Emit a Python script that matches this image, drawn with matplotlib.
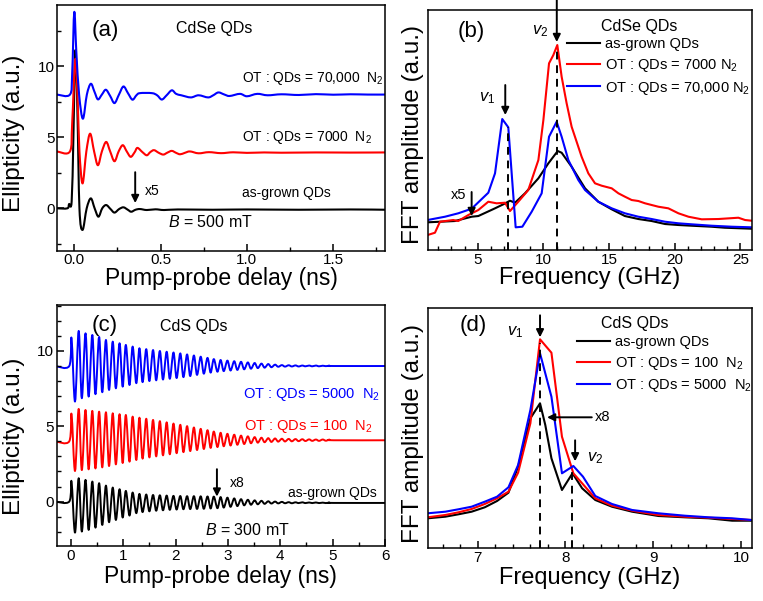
import matplotlib
matplotlib.use("Agg")
import matplotlib.pyplot as plt
from matplotlib.ticker import MultipleLocator
from matplotlib.path import Path
from matplotlib.patches import PathPatch

plt.rcParams['font.family'] = ['Liberation Sans', 'DejaVu Sans']
plt.rcParams['mathtext.fontset'] = 'custom'
plt.rcParams['mathtext.rm'] = 'Liberation Sans'
plt.rcParams['mathtext.it'] = 'Liberation Sans:italic'
plt.rcParams['mathtext.bf'] = 'Liberation Sans:bold'

# ---------------- Panel (a): CdSe time traces (delay ns, ellipticity) -------------
A_BLUE_T = [-0.10, -0.025, -0.012, 0.0, 0.012, 0.028, 0.05, 0.073, 0.096, 0.117, 0.137, 0.16,
            0.183, 0.208, 0.233, 0.259, 0.285, 0.311, 0.337, 0.36, 0.38, 0.45, 0.48, 0.507,
            0.535, 0.565, 0.59, 0.62, 0.675, 0.72, 0.775, 0.805, 0.835, 0.87, 0.9, 0.96, 1.0,
            1.06, 1.12, 1.2, 1.3, 1.4, 1.5, 1.6, 1.7, 1.8]
A_BLUE_V = [8.0, 8.0, 9.5, 13.8, 11.0, 8.0, 6.3, 8.0, 8.76, 8.2, 7.66, 8.0,
            8.34, 7.9, 7.4, 8.0, 8.57, 8.1, 7.64, 7.95, 8.1, 8.1, 7.95, 7.65,
            7.95, 8.3, 8.05, 7.95, 7.8, 7.95, 7.8, 7.95, 8.15, 8.0, 7.9, 8.05, 7.88,
            8.05, 7.95, 8.02, 7.97, 8.03, 7.99, 8.02, 8.0, 8.0]

A_RED_T = [-0.10, -0.025, -0.012, 0.006, 0.02, 0.03, 0.048, 0.07, 0.092, 0.115, 0.137, 0.16,
           0.185, 0.208, 0.233, 0.257, 0.281, 0.304, 0.327, 0.35, 0.366, 0.395, 0.42, 0.44,
           0.462, 0.49, 0.516, 0.54, 0.565, 0.59, 0.613, 0.64, 0.67, 0.72, 0.78, 0.85, 0.92,
           1.0, 1.1, 1.2, 1.4, 1.6, 1.8]
A_RED_V = [4.0, 4.0, 6.0, 10.5, 7.5, 4.0, 1.75, 4.0, 5.25, 4.0, 3.03, 4.0,
           4.67, 4.0, 3.31, 4.0, 4.44, 4.0, 3.62, 3.95, 4.25, 3.95, 3.73, 3.95,
           4.09, 3.9, 3.78, 3.92, 4.04, 3.9, 3.8, 3.9, 4.0, 3.87, 3.95, 3.88, 3.94,
           3.9, 3.93, 3.91, 3.93, 3.92, 3.93]

A_BLACK_T = [-0.10, -0.04, -0.03, -0.015, -0.005, 0.006, 0.018, 0.03, 0.048, 0.072, 0.096,
             0.118, 0.14, 0.162, 0.185, 0.21, 0.233, 0.26, 0.285, 0.31, 0.33, 0.355, 0.38,
             0.42, 0.47, 0.52, 0.6, 0.8, 1.0, 1.3, 1.6, 1.8]
A_BLACK_V = [0.0, 0.0, 0.3, 0.5, 5.0, 11.1, 7.0, 0.0, -1.52, 0.0, 0.7,
             0.0, -0.59, 0.0, 0.23, -0.05, -0.3, -0.05, 0.07, -0.1, -0.24, -0.1, -0.05,
             -0.12, -0.07, -0.12, -0.08, -0.1, -0.08, -0.1, -0.08, -0.1]

# ---------------- Panel (b): CdSe FFT (GHz, a.u.) ----------------
B_BLACK_F = [1.19, 3.27, 4.54, 5.05, 6.32, 6.95, 7.46, 7.84, 8.6, 9.62, 10.38, 11.09, 11.39,
             12.15, 13.17, 14.18, 15.2, 16.2, 17.23, 18.24, 19.26, 20.28, 21.29, 22.8, 23.8, 25.86]
B_BLACK_A = [27.7, 29, 33.3, 34, 41.7, 45.7, 49.3, 47.3, 56.7, 71.7, 86.7, 99, 97.3,
             83.3, 61.7, 48.3, 40.7, 34, 31, 29, 26, 25, 24.3, 23.3, 22.3, 21.3]
B_RED_F = [1.19, 1.75, 2.13, 3.14, 3.52, 4.29, 5.05, 5.81, 6.44, 7.08, 7.46, 8.09, 8.85, 9.62,
           10.0, 10.43, 10.76, 11.06, 11.39, 11.77, 12.15, 12.91, 13.42, 13.93, 14.44, 15.2,
           15.71, 16.21, 16.72, 17.23, 17.74, 18.75, 19.51, 20.28, 21.04, 22.05, 23.32, 24.84,
           25.35, 25.86]
B_RED_A = [15, 17.3, 28.3, 30, 29, 35, 40, 48.3, 46.7, 47.3, 39, 48.3, 60, 90,
           130, 186.7, 195, 205, 173.3, 146.7, 123.3, 93.3, 76.7, 66.7, 64.3, 61.7,
           56.7, 53.3, 50, 49, 46.7, 43.3, 41.7, 36.7, 33.3, 30.7, 31, 32.3,
           30, 29.3]
B_BLUE_F = [1.19, 2.51, 3.52, 4.54, 5.81, 6.32, 6.87, 7.33, 7.89, 8.4, 9.11, 9.87, 10.43,
            11.01, 11.39, 11.9, 12.66, 13.17, 14.18, 15.2, 16.21, 17.23, 18.24, 19.26, 20.28,
            21.29, 22.81, 24.34, 25.86]
B_BLUE_A = [30, 33.3, 36.7, 41.3, 57.3, 76.7, 131, 122.7, 22.7, 23.3, 38.3, 56.7, 113.3,
            128.3, 113.3, 90, 70, 60, 48.3, 41.7, 36.7, 33.3, 31, 28.3, 26.7,
            25.7, 24.3, 23.3, 22.7]

# ---------------- Panel (c): CdS time traces ----------------
C_PEAK_T = [0.15, 0.28, 0.41, 0.54, 0.67, 0.80, 0.93, 1.05, 1.18, 1.31, 1.44, 1.57, 1.70,
            1.83, 1.96, 2.09, 2.22, 2.35, 2.48, 2.61, 2.73, 2.86, 2.99, 3.12, 3.25, 3.38,
            3.51, 3.64, 3.77, 3.90, 4.03, 4.16, 4.29, 4.42, 4.55, 4.68, 4.81, 4.94]
C_TROUGH_T = [0.08, 0.21, 0.34, 0.47, 0.60, 0.73, 0.86, 0.99, 1.12, 1.25, 1.37, 1.50, 1.63,
              1.76, 1.89, 2.02, 2.15, 2.28, 2.41, 2.54, 2.67, 2.80, 2.92, 3.05, 3.18, 3.31,
              3.44, 3.57, 3.70, 3.83, 3.96, 4.09, 4.22, 4.35, 4.48, 4.61, 4.74, 4.87]
C_BLUE_PEAK = [11.33, 11.17, 11.06, 10.93, 10.73, 10.62, 10.51, 10.40, 10.29, 10.18, 10.12,
               10.06, 10.00, 9.95, 9.90, 9.84, 9.77, 9.70, 9.62, 9.54, 9.46, 9.40, 9.36, 9.32,
               9.28, 9.24, 9.20, 9.16, 9.13, 9.09, 9.06, 9.05, 9.04, 9.03, 9.03, 9.03, 9.02, 9.02]
C_BLUE_TROUGH = [6.64, 6.86, 6.97, 7.13, 7.26, 7.41, 7.52, 7.63, 7.74, 7.86, 7.93, 8.00, 8.05,
                 8.10, 8.15, 8.20, 8.26, 8.33, 8.41, 8.49, 8.56, 8.62, 8.66, 8.70, 8.74, 8.78,
                 8.82, 8.86, 8.89, 8.92, 8.95, 8.96, 8.97, 8.97, 8.98, 8.98, 8.98, 8.99]
C_RED_PEAK = [6.15, 6.08, 6.02, 5.97, 5.93, 5.86, 5.80, 5.75, 5.64, 5.57, 5.50, 5.42, 5.34,
              5.26, 5.18, 5.10, 5.01, 4.92, 4.83, 4.74, 4.65, 4.57, 4.50, 4.44, 4.38, 4.33,
              4.28, 4.24, 4.21, 4.19, 4.17, 4.16, 4.15, 4.14, 4.13, 4.12, 4.12, 4.11]
C_RED_TROUGH = [2.03, 2.09, 2.14, 2.20, 2.27, 2.36, 2.47, 2.56, 2.65, 2.76, 2.85, 2.93, 3.00,
                3.07, 3.14, 3.21, 3.28, 3.35, 3.42, 3.49, 3.56, 3.62, 3.67, 3.72, 3.77, 3.82,
                3.87, 3.91, 3.94, 3.96, 3.98, 3.99, 4.00, 4.01, 4.02, 4.03, 4.03, 4.04]
C_BLACK_PEAK = [1.55, 1.44, 1.33, 1.22, 1.06, 0.93, 0.82, 0.71, 0.60, 0.51, 0.47, 0.44, 0.42,
                0.40, 0.38, 0.37, 0.36, 0.36, 0.35, 0.34, 0.33, 0.30, 0.26, 0.21, 0.16, 0.12,
                0.08, 0.05, 0.02, 0.00, -0.02, -0.04, -0.05, -0.05, -0.06, -0.06, -0.07, -0.07]
C_BLACK_TROUGH = [-2.06, -1.99, -1.88, -1.73, -1.55, -1.37, -1.22, -1.06, -0.93, -0.77, -0.70,
                  -0.65, -0.61, -0.58, -0.55, -0.53, -0.51, -0.50, -0.49, -0.48, -0.46, -0.44,
                  -0.40, -0.35, -0.30, -0.25, -0.21, -0.18, -0.15, -0.13, -0.12, -0.11, -0.11,
                  -0.10, -0.10, -0.10, -0.10, -0.10]
C_SPIKE_T = 0.013
C_SPIKE = {'blue': 10.84, 'red': 5.8, 'black': 1.33}
C_BASE_START = {'blue': 9.0, 'red': 4.0, 'black': 0.0}
C_BASE_END = {'blue': 9.0, 'red': 4.07, 'black': -0.09}

# ---------------- Panel (d): CdS FFT ----------------
D_BLACK_F = [6.43, 6.63, 6.78, 6.93, 7.08, 7.22, 7.35, 7.46, 7.6, 7.71, 7.77, 7.84, 7.96, 8.08,
             8.19, 8.34, 8.53, 8.76, 9.06, 9.36, 9.63, 9.9, 10.12]
D_BLACK_A = [30, 31.6, 34, 36.6, 41, 47.3, 55.6, 81.6, 130, 145, 123.3, 90, 58.3, 75,
             60, 48.3, 41.6, 36.6, 32.3, 31, 30, 27.6, 27.6]
D_RED_F = [6.43, 6.63, 6.78, 6.93, 7.08, 7.22, 7.35, 7.46, 7.6, 7.71, 7.84, 7.96, 8.09, 8.19,
           8.34, 8.53, 8.76, 9.06, 9.36, 9.63, 9.9, 10.12]
D_RED_A = [31, 33.3, 36, 39.3, 44.3, 50, 56.6, 75.6, 125, 209, 195.6, 111.6, 75, 65,
           50, 42.6, 37.6, 33.3, 31.6, 30.6, 29.3, 28.3]
D_BLUE_F = [6.43, 6.63, 6.78, 6.93, 7.08, 7.22, 7.35, 7.46, 7.6, 7.71, 7.84, 7.96, 8.09, 8.2,
            8.34, 8.53, 8.76, 9.06, 9.36, 9.63, 9.9, 10.12]
D_BLUE_A = [35, 36.6, 39, 41.6, 46.6, 51.6, 61, 83.3, 138.3, 195, 151.6, 75, 82.3, 71.6,
            52.3, 44.3, 38.3, 35, 32.6, 31, 30, 28.3]

B_LABELS = ['as-grown QDs', r'OT : QDs = 7000 N$_2$', r'OT : QDs = 70,000 N$_2$']
D_LABELS = ['as-grown QDs', r'OT : QDs = 100  N$_2$', r'OT : QDs = 5000  N$_2$']

BLUE = '#0000FF'
RED = '#FF0000'
BLACK = '#000000'
LW = 1.5
XLABEL_FS = 16.5
YLABEL_FS = 17.5


def style(ax):
    for s in ax.spines.values():
        s.set_linewidth(1.1)
    ax.tick_params(which='both', direction='in', top=False, right=False,
                   labelsize=11, pad=1.8)
    ax.tick_params(which='major', length=5, width=1.1)
    ax.tick_params(which='minor', length=3, width=1.0)


def arrow(ax, x0, y0, x1, y1):
    ax.annotate('', xy=(x1, y1), xytext=(x0, y0),
                arrowprops=dict(arrowstyle='-|>', color='black', lw=1.4,
                                mutation_scale=11, shrinkA=0, shrinkB=0),
                annotation_clip=False)


def smooth_line(ax, xs, ys, color, lw):
    """Draw the read points joined by a smooth (Catmull-Rom) curve in data space."""
    pts = list(zip(xs, ys))
    n = len(pts)
    verts = [pts[0]]
    codes = [Path.MOVETO]
    for i in range(n - 1):
        p0 = pts[i - 1] if i > 0 else pts[i]
        p1 = pts[i]
        p2 = pts[i + 1]
        p3 = pts[i + 2] if i + 2 < n else pts[i + 1]
        c1 = (p1[0] + (p2[0] - p0[0]) / 6.0, p1[1] + (p2[1] - p0[1]) / 6.0)
        c2 = (p2[0] - (p3[0] - p1[0]) / 6.0, p2[1] - (p3[1] - p1[1]) / 6.0)
        verts += [c1, c2, p2]
        codes += [Path.CURVE4] * 3
    ax.add_patch(PathPatch(Path(verts, codes), fill=False, edgecolor=color, lw=lw,
                           joinstyle='round', capstyle='round'))


def build_c(key, peak, trough):
    t = [-0.3, -0.03, C_SPIKE_T]
    v = [C_BASE_START[key], C_BASE_START[key], C_SPIKE[key]]
    for tt, tv, pt, pv in zip(C_TROUGH_T, trough, C_PEAK_T, peak):
        t += [tt, pt]
        v += [tv, pv]
    t += [5.02, 6.1]
    v += [C_BASE_END[key], C_BASE_END[key]]
    return t, v


fig = plt.figure(figsize=(7.63, 6.01), dpi=100)
axA = fig.add_axes([0.0747, 0.5824, 0.4299, 0.4093])
axB = fig.add_axes([0.5606, 0.5840, 0.4254, 0.3993])
axC = fig.add_axes([0.0743, 0.0915, 0.4303, 0.4010])
axD = fig.add_axes([0.5606, 0.0877, 0.4254, 0.3993])

# ---- (a)
ax = axA
smooth_line(ax, A_BLACK_T, A_BLACK_V, BLACK, LW)
smooth_line(ax, A_RED_T, A_RED_V, RED, LW)
smooth_line(ax, A_BLUE_T, A_BLUE_V, BLUE, LW)
ax.set_xlim(-0.1, 1.8)
ax.set_ylim(-3.0, 14.3)
ax.xaxis.set_major_locator(MultipleLocator(0.5))
ax.xaxis.set_minor_locator(MultipleLocator(0.25))
ax.yaxis.set_major_locator(MultipleLocator(5))
ax.yaxis.set_minor_locator(MultipleLocator(2.5))
style(ax)
ax.set_xlabel('Pump-probe delay (ns)', fontsize=XLABEL_FS)
ax.set_ylabel('Ellipticity (a.u.)', fontsize=YLABEL_FS)
ax.xaxis.set_label_coords(0.5, -0.066)
ax.yaxis.set_label_coords(-0.098, 0.48)
ax.text(0.146, 0.898, '(a)', transform=ax.transAxes, fontsize=16, ha='center', va='center')
ax.text(0.48, 0.906, 'CdSe QDs', transform=ax.transAxes, fontsize=11.5, ha='center', va='center')
ax.text(0.564, 0.703, r'OT : QDs = 70,000  N$_2$', transform=ax.transAxes, fontsize=10, ha='left', va='center')
ax.text(0.564, 0.463, r'OT : QDs = 7000  N$_2$', transform=ax.transAxes, fontsize=10, ha='left', va='center')
ax.text(0.564, 0.236, 'as-grown QDs', transform=ax.transAxes, fontsize=10, ha='left', va='center')
ax.text(0.268, 0.244, 'x5', transform=ax.transAxes, fontsize=10, ha='left', va='center')
ax.text(0.338, 0.118, r'$B$ = 500 mT', transform=ax.transAxes, fontsize=11.5, ha='left', va='center')
arrow(ax, 0.353, 2.54, 0.353, 0.37)

# ---- (b)
ax = axB
l1, = ax.plot(B_BLACK_F, B_BLACK_A, color=BLACK, lw=LW)
l2, = ax.plot(B_RED_F, B_RED_A, color=RED, lw=LW)
l3, = ax.plot(B_BLUE_F, B_BLUE_A, color=BLUE, lw=LW)
ax.set_xlim(1.2, 25.9)
ax.set_ylim(0, 240)
ax.xaxis.set_major_locator(MultipleLocator(5))
ax.xaxis.set_minor_locator(MultipleLocator(1))
ax.set_yticks([])
style(ax)
ax.plot([7.28, 7.28], [0, 123], color=BLACK, lw=1.4, dashes=(4, 3))
ax.plot([11.01, 11.01], [0, 203], color=BLACK, lw=1.4, dashes=(4, 3))
arrow(ax, 7.1, 165, 7.1, 135)
arrow(ax, 11.02, 250, 11.02, 208)
arrow(ax, 4.54, 58, 4.54, 34)
ax.text(5.69, 151.7, r'$v_1$', fontsize=12, ha='center', va='center')
ax.text(9.74, 219, r'$v_2$', fontsize=12, ha='center', va='center')
ax.text(3.52, 55, 'x5', fontsize=10.5, ha='center', va='center')
ax.text(0.135, 0.91, '(b)', transform=ax.transAxes, fontsize=16, ha='center', va='center')
ax.text(0.5345, 0.93, 'CdSe QDs', transform=ax.transAxes, fontsize=11.5, ha='left', va='center')
ax.legend([l1, l2, l3], B_LABELS, loc='upper left', bbox_to_anchor=(0.428, 0.888),
          frameon=False, fontsize=10.5, handlelength=2.3, handletextpad=0.3,
          labelspacing=0.4, borderpad=0, borderaxespad=0)
ax.set_xlabel('Frequency (GHz)', fontsize=17)
ax.set_ylabel('FFT amplitude (a.u.)', fontsize=YLABEL_FS)
ax.xaxis.set_label_coords(0.5, -0.071)
ax.yaxis.set_label_coords(-0.01, 0.48)

# ---- (c)
ax = axC
for key, pk, tr, col in [('black', C_BLACK_PEAK, C_BLACK_TROUGH, BLACK),
                         ('red', C_RED_PEAK, C_RED_TROUGH, RED),
                         ('blue', C_BLUE_PEAK, C_BLUE_TROUGH, BLUE)]:
    t, v = build_c(key, pk, tr)
    smooth_line(ax, t, v, col, 1.4)
ax.set_xlim(-0.27, 6.0)
ax.set_ylim(-2.95, 13.05)
ax.xaxis.set_major_locator(MultipleLocator(1))
ax.xaxis.set_minor_locator(MultipleLocator(0.5))
ax.yaxis.set_major_locator(MultipleLocator(5))
ax.yaxis.set_minor_locator(MultipleLocator(1))
style(ax)
ax.set_xlabel('Pump-probe delay (ns)', fontsize=XLABEL_FS)
ax.set_ylabel('Ellipticity (a.u.)', fontsize=YLABEL_FS)
ax.xaxis.set_label_coords(0.5, -0.079)
ax.yaxis.set_label_coords(-0.098, 0.455)
ax.text(0.147, 0.917, '(c)', transform=ax.transAxes, fontsize=16, ha='center', va='center')
ax.text(0.418, 0.91, 'CdS QDs', transform=ax.transAxes, fontsize=11.5, ha='center', va='center')
ax.text(0.985, 0.627, r'OT : QDs = 5000  N$_2$', transform=ax.transAxes, fontsize=10.5,
        ha='right', va='center', color=BLUE)
ax.text(0.963, 0.495, r'OT : QDs = 100  N$_2$', transform=ax.transAxes, fontsize=10.5,
        ha='right', va='center', color=RED)
ax.text(0.976, 0.219, 'as-grown QDs', transform=ax.transAxes, fontsize=10, ha='right', va='center')
ax.text(0.528, 0.26, 'x8', transform=ax.transAxes, fontsize=10, ha='left', va='center')
ax.text(0.452, 0.066, r'$B$ = 300 mT', transform=ax.transAxes, fontsize=11.5, ha='left', va='center')
arrow(ax, 2.79, 2.15, 2.79, 0.33)

# ---- (d)
ax = axD
m1, = ax.plot(D_BLACK_F, D_BLACK_A, color=BLACK, lw=LW)
m2, = ax.plot(D_RED_F, D_RED_A, color=RED, lw=LW)
m3, = ax.plot(D_BLUE_F, D_BLUE_A, color=BLUE, lw=LW)
ax.set_xlim(6.43, 10.13)
ax.set_ylim(0, 240)
ax.xaxis.set_major_locator(MultipleLocator(1))
ax.xaxis.set_minor_locator(MultipleLocator(0.2))
ax.set_yticks([])
style(ax)
ax.plot([7.71, 7.71], [0, 205], color=BLACK, lw=1.4, dashes=(4, 3))
ax.plot([8.08, 8.08], [0, 78], color=BLACK, lw=1.4, dashes=(4, 3))
arrow(ax, 7.71, 233, 7.71, 211)
arrow(ax, 8.11, 108, 8.11, 87)
arrow(ax, 8.3, 131, 7.79, 131)
ax.text(7.43, 216.6, r'$v_1$', fontsize=12, ha='center', va='center')
ax.text(8.34, 90, r'$v_2$', fontsize=12, ha='center', va='center')
ax.text(8.33, 131, 'x8', fontsize=10.5, ha='left', va='center')
ax.text(0.14, 0.93, '(d)', transform=ax.transAxes, fontsize=16, ha='center', va='center')
ax.text(0.535, 0.9375, 'CdS QDs', transform=ax.transAxes, fontsize=11.5, ha='left', va='center')
ax.legend([m1, m2, m3], D_LABELS, loc='upper left', bbox_to_anchor=(0.459, 0.888),
          frameon=False, fontsize=10.5, handlelength=2.3, handletextpad=0.3,
          labelspacing=0.38, borderpad=0, borderaxespad=0)
ax.set_xlabel('Frequency (GHz)', fontsize=17)
ax.set_ylabel('FFT amplitude (a.u.)', fontsize=YLABEL_FS)
ax.xaxis.set_label_coords(0.5, -0.078)
ax.yaxis.set_label_coords(-0.01, 0.48)

fig.savefig('out.png', dpi=100)
